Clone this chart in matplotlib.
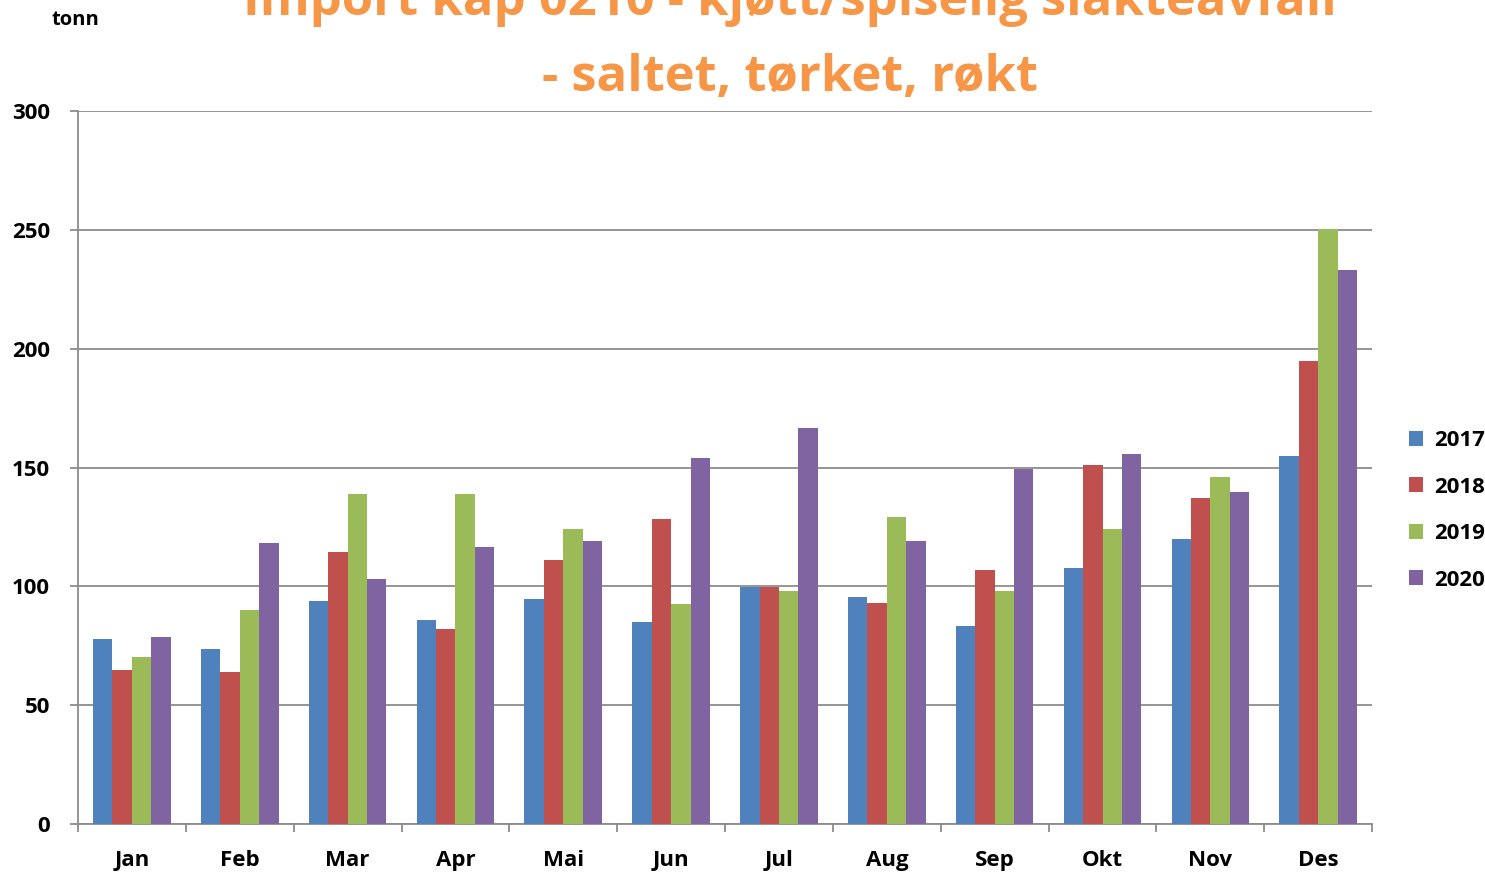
import numpy as np
import matplotlib.pyplot as plt

months = ['Jan', 'Feb', 'Mar', 'Apr', 'Mai', 'Jun', 'Jul', 'Aug', 'Sep', 'Okt', 'Nov', 'Des']
years = ['2017', '2018', '2019', '2020']
v2017 = [77.8, 73.6, 93.8, 85.8, 94.7, 85.0, 99.7, 95.5, 83.3, 107.7, 120.0, 154.8]
v2018 = [64.8, 64.0, 114.4, 82.0, 111.0, 128.3, 99.7, 93.0, 106.9, 151.0, 137.2, 194.8]
v2019 = [70.3, 90.0, 138.8, 138.8, 124.0, 92.6, 98.0, 129.2, 98.0, 124.0, 146.0, 250.3]
v2020 = [78.7, 118.2, 103.0, 116.5, 119.0, 154.0, 166.6, 119.0, 149.4, 155.7, 139.7, 233.0]
colors = ['#4F81BD', '#C0504D', '#9BBB59', '#8064A2']

plt.rcParams['font.family'] = ['Open Sans', 'DejaVu Sans']

fig = plt.figure(figsize=(14.85, 8.74), dpi=100)
ax = fig.add_axes([0.0525, 0.0572, 0.8715, 0.8158])

x = np.arange(len(months))
w = 0.18
for i, (vals, c, yr) in enumerate(zip([v2017, v2018, v2019, v2020], colors, years)):
    ax.bar(x + (i - 1.5) * w, vals, w, color=c, label=yr, zorder=3)

ax.set_xlim(-0.5, 11.5)
ax.set_ylim(0, 300)
ax.set_yticks(range(0, 301, 50))
ax.yaxis.grid(True, color='#8c8c8c', linewidth=1.3, zorder=0)
ax.set_xticks(x)
ax.set_xticklabels(months, fontsize=16, fontweight='bold')
ax.set_xticks(np.arange(-0.5, 12, 1), minor=True)
ax.tick_params(axis='x', which='major', length=0, pad=19)
ax.tick_params(axis='x', which='minor', length=6, color='#8c8c8c', width=1.3)
ax.tick_params(axis='y', length=6, color='#8c8c8c', width=1.3, labelsize=16, pad=14)
for lab in ax.get_yticklabels():
    lab.set_fontweight('bold')
for s in ['top', 'right']:
    ax.spines[s].set_visible(False)
for s in ['left', 'bottom']:
    ax.spines[s].set_color('#8c8c8c')
    ax.spines[s].set_linewidth(1.3)

leg = ax.legend(loc='center left', bbox_to_anchor=(1.013, 0.44), frameon=False,
                prop={'size': 16, 'weight': 'bold'}, handlelength=0.65, handleheight=0.65,
                handletextpad=0.5, labelspacing=1.15)

fig.text(0.532, 0.998, 'Import kap 0210 - kjøtt/spiselig slakteavfall', ha='center', va='center',
         fontsize=36.5, fontweight='bold', color='#F79646')
fig.text(0.532, 0.911, '- saltet, tørket, røkt', ha='center', va='center',
         fontsize=36.5, fontweight='bold', color='#F79646')
fig.text(0.051, 0.977, 'tonn', ha='center', va='center', fontsize=14.5, fontweight='bold')

fig.savefig('out.png')
